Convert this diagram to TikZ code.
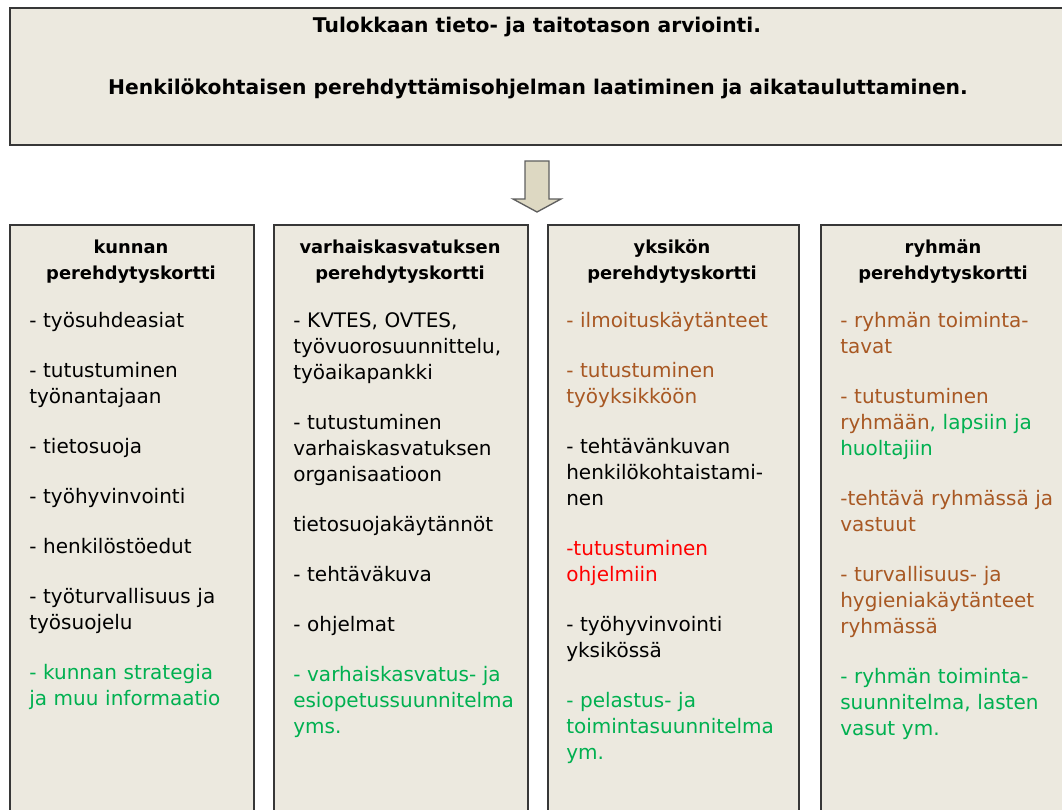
\documentclass[tikz,border=0pt]{standalone}
\usepackage{fontspec}
\setmainfont{DejaVu Sans}
\usetikzlibrary{positioning}
\definecolor{pohja}{RGB}{236,233,223}
\definecolor{reuna}{RGB}{55,55,55}
\definecolor{nuolivari}{RGB}{221,216,194}
\definecolor{ruskea}{RGB}{168,88,35}
\definecolor{vihrea}{RGB}{0,176,80}
\definecolor{punainen}{RGB}{255,0,0}

\begin{document}
\begin{tikzpicture}[x = 0.75pt, y = -0.75pt,
            every node/.style = {inner sep = 0pt},
            card/.style = {draw = reuna, line width = 1.5pt, fill = pohja, anchor = north west},
            title/.style = {font = \bfseries\fontsize{15.2}{19.5}\selectfont, anchor = base},
            head/.style = {font = \bfseries\fontsize{13.4}{19.5}\selectfont, text width = 180pt, align = center, anchor = base},
            list/.style = {font = \fontsize{15}{19.5}\selectfont, text width = 250pt, align = left, anchor = base west},
            nuoli/.style = {draw = reuna!80, fill = nuolivari, line width = 1pt}]
            \useasboundingbox (0,0) rectangle (1062,809);
            \node[card, minimum width = 800pt, minimum height = 102.75pt] (tulo) at (9,7) {};
            \node[title] (arvio) at (537,33) {Tulokkaan tieto- ja taitotason arviointi.};
            \node[title] (ohjelma) at (538,95) {Henkilökohtaisen perehdyttämisohjelman laatiminen ja aikatauluttaminen.};
            \draw[nuoli] (525,161) -- (549,161) -- (549,199) -- (561,199) -- (537,212)
                -- (513,199) -- (525,199) -- cycle;
            % kortit
            \node[card, minimum width = 183pt, minimum height = 450pt] (kunta) at (9,224) {};
            \node[card, minimum width = 190.5pt, minimum height = 450pt] (varhais) at (273,224) {};
            \node[card, minimum width = 188.25pt, minimum height = 450pt] (yksikko) at (547,224) {};
            \node[card, minimum width = 190pt, minimum height = 450pt] (ryhma) at (820,224) {};
            \node[head] (kuntaotsikko) at (131,253) {kunnan\\ perehdytyskortti};
            \node[head] (varhaisotsikko) at (400,253) {varhaiskasvatuksen\\ perehdytyskortti};
            \node[head] (yksikkootsikko) at (672,253) {yksikön\\ perehdytyskortti};
            \node[head] (ryhmaotsikko) at (943,253) {ryhmän\\ perehdytyskortti};
            % listat
            \node[list] (kuntalista) at (29,327) {- työsuhdeasiat\\[18pt]
                - tutustuminen\\ työnantajaan\\[18pt]
                - tietosuoja\\[18pt]
                - työhyvinvointi\\[18pt]
                - henkilöstöedut\\[18pt]
                - työturvallisuus ja\\ työsuojelu\\[18pt]
                \color{vihrea}- kunnan strategia\\ ja muu informaatio};
            \node[list] (varhaislista) at (293,327) {- KVTES, OVTES,\\ työvuorosuunnittelu,\\ työaikapankki\\[18pt]
                - tutustuminen\\ varhaiskasvatuksen\\ organisaatioon\\[18pt]
                tietosuojakäytännöt\\[18pt]
                - tehtäväkuva\\[18pt]
                - ohjelmat\\[18pt]
                \color{vihrea}- varhaiskasvatus- ja\\ esiopetussuunnitelma\\ yms.};
            \node[list] (yksikkolista) at (566,327) {\color{ruskea}- ilmoituskäytänteet\\[18pt]
                - tutustuminen\\ työyksikköön\\[18pt]
                \color{black}- tehtävänkuvan\\ henkilökohtaistami-\\ nen\\[18pt]
                \color{punainen}-tutustuminen\\ ohjelmiin\\[18pt]
                \color{black}- työhyvinvointi\\ yksikössä\\[18pt]
                \color{vihrea}- pelastus- ja\\ toimintasuunnitelma\\ ym.};
            \node[list] (ryhmalista) at (840,327) {\color{ruskea}- ryhmän toiminta-\\ tavat\\[18pt]
                - tutustuminen\\ ryhmään\color{vihrea}, lapsiin ja\\ huoltajiin\\[18pt]
                \color{ruskea}-tehtävä ryhmässä ja\\ vastuut\\[18pt]
                - turvallisuus- ja\\ hygieniakäytänteet\\ ryhmässä\\[18pt]
                \color{vihrea}- ryhmän toiminta-\\ suunnitelma, lasten\\ vasut ym.};
        \end{tikzpicture}
\end{document}
